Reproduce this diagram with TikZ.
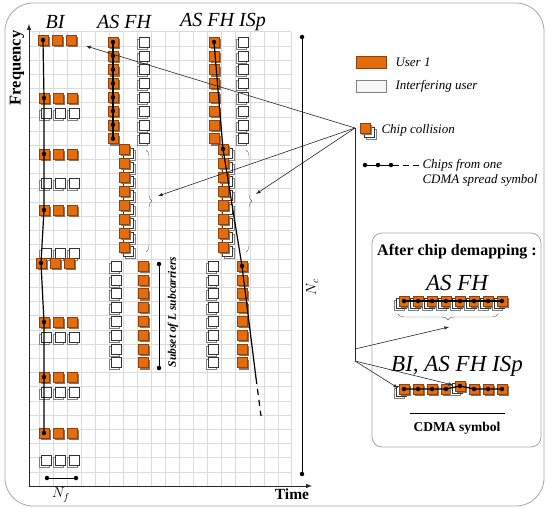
\documentclass[tikz,border=0pt]{standalone}
\usepackage{fontspec}
\setmainfont{Liberation Serif}
\usetikzlibrary{decorations.pathreplacing}

\definecolor{chiporange}{RGB}{228,108,10}
\definecolor{chipedge}{RGB}{140,65,15}
\definecolor{chipshade}{RGB}{140,115,95}

\begin{document}
\begin{tikzpicture}[x=1pt, y=-1pt,
	user/.style={draw=chipedge, fill=chiporange, minimum size=10pt, inner sep=0pt, line width=0.4pt},
	interf/.style={draw=black!80, fill=white, minimum size=10pt, inner sep=0pt, line width=0.5pt},
	dot/.style={circle, fill=black, inner sep=0pt, minimum size=4.5pt},
	chipline/.style={line width=1.2pt},
	gridline/.style={black!14, line width=0.5pt},
	arr/.style={-latex, black!85, line width=0.6pt},
	title/.style={font=\fontsize{20}{24}\selectfont\itshape},
	legtext/.style={anchor=west, font=\fontsize{13}{15}\selectfont\itshape},
	uchip/.pic={
		\fill[chipshade] (-3,-3) rectangle (7,7);
		\node[user] (-c) at (0,0) {};
	},
	ichip/.pic={
		\draw[gray, fill=white, line width=0.5pt] (-7,-3) rectangle (3,7);
		\node[interf] (-c) at (0,0) {};
	},
	cchip/.pic={
		\draw[gray, fill=white, line width=0.5pt] (1,1) rectangle (11,11);
		\draw[black!80, fill=white, line width=0.5pt] (-1,-1) rectangle (9,9);
		\fill[chipshade] (-3,-3) rectangle (7,7);
		\node[user] (-c) at (0,0) {};
	},
	cchipl/.pic={
		\draw[gray, fill=white, line width=0.5pt] (-10,-1) rectangle (0,9);
		\draw[black!80, fill=white, line width=0.5pt] (-8,-3) rectangle (2,7);
		\fill[chipshade] (-3,-3) rectangle (7,7);
		\node[user] (-c) at (0,0) {};
	}]
	\useasboundingbox (0,0) rectangle (547,509);
	\draw[gray!70, line width=0.8pt, rounded corners=28pt] (5,3) rectangle (544,506);

	% grid and axes
	\foreach \k in {1,...,32}
		\draw[gridline] (29,486-14.2*\k) -- (291,486-14.2*\k);
	\foreach \k in {0,...,17}
		\draw[gridline] (39+14.05*\k,31.6) -- (39+14.05*\k,486);
	\draw[gridline] (291,31.6) -- (291,486);
	\coordinate (origin) at (29,486);
	\coordinate (ftip) at (29,24);
	\coordinate (ttip) at (312,486);
	\draw[-latex, line width=1pt, black!85] (origin) -- (ftip);
	\draw[-latex, line width=1pt, black!85] (origin) -- (ttip);
	\node[rotate=90, font=\fontsize{16.5}{18}\selectfont\bfseries] (freq) at (17,68) {Frequency};
	\node[font=\fontsize{15.5}{18}\selectfont\bfseries] (time) at (292,494) {Time};

	\node[title] (tbi) at (55,22) {BI};
	\node[title] (tas) at (124,22) {AS FH};
	\node[title] (tisp) at (223,22) {AS FH ISp};

	% BI
	\foreach \y in {113,183,253,337,392,460}{
		\pic (biwa\y) at (46,\y) {ichip};
		\pic (biwb\y) at (60,\y) {ichip};
		\pic (biwc\y) at (74,\y) {ichip};
	}
	\foreach \n/\x/\y in {1/43/40,2/44/98,3/44/154,4/44/210,5/41/263,6/44/322,7/44/377,8/44/433}{
		\pic (bia\n) at (\x,\y) {uchip};
		\pic (bib\n) at (\x+14,\y) {uchip};
		\pic (bic\n) at (\x+28,\y) {uchip};
	}
	\draw[chipline] (bia1-c.center) -- (bia2-c.center) -- (bia3-c.center) -- (bia4-c.center)
		-- (bia5-c.center) -- (bia6-c.center) -- (bia7-c.center) -- (bia8-c.center);
	\foreach \n in {1,...,8}
		\node[dot] (bidot\n) at (bia\n-c) {};
	\node[dot] (nf1) at (47,478) {};
	\node[dot] (nf2) at (76,478) {};
	\draw[line width=0.8pt] (nf1) -- (nf2);
	\node[font=\fontsize{14}{16}\selectfont] (nf) at (61,495) {$N_f$};

	% AS FH
	\foreach \k in {0,...,7}{
		\pic (asw\k) at (144,42+13.8*\k) {ichip};
		\pic (as\k) at (113,42+13.8*\k) {uchip};
		\pic (asl\k) at (116,266+13.8*\k) {ichip};
		\pic (aso\k) at (143,266+13.8*\k) {uchip};
	}
	\foreach \k in {0,...,7}
		\pic (asc\k) at (124,149+14*\k) {cchip};
	\draw[chipline] (as0-c.center) -- (as7-c.center);
	\foreach \k in {0,...,7}
		\node[dot] (asdot\k) at (as\k-c) {};
	\coordinate (asbr1) at (146,150);
	\coordinate (asbr2) at (146,252);
	\draw[gray!80!black, decorate, decoration={brace, amplitude=6pt}] (asbr1) -- (asbr2);
	\node[dot] (sub1) at (159,264) {};
	\node[dot] (sub2) at (159,368) {};
	\draw[line width=0.8pt] (sub1) -- (sub2);
	\node[rotate=90, font=\fontsize{11.5}{14}\selectfont\bfseries\itshape] (subset) at (173,312) {Subset of L subcarriers};

	% AS FH ISp
	\foreach \k in {0,...,7}{
		\pic (ispw\k) at (243,42+13.8*\k) {ichip};
		\pic (isp\k) at (214,42+13.8*\k) {uchip};
		\pic (ispl\k) at (213,266+13.8*\k) {ichip};
		\pic (ispo\k) at (242,266+13.8*\k) {uchip};
	}
	\foreach \k in {0,...,7}
		\pic (ispc\k) at (223,149+14*\k) {cchip};
	\coordinate (ispend) at (256,378);
	\coordinate (ispdash) at (261,416);
	\draw[chipline] (isp0-c.center) -- (ispc0-c.center) -- (ispo0-c.center) -- (ispend);
	\draw[chipline, dash pattern=on 6pt off 5pt] (ispend) -- (ispdash);
	\node[dot] (ispdot1) at (isp0-c) {};
	\node[dot] (ispdot2) at (ispc0-c) {};
	\node[dot] (ispdot3) at (ispo0-c) {};
	\coordinate (ispbr1) at (246,150);
	\coordinate (ispbr2) at (246,252);
	\draw[gray!80!black, decorate, decoration={brace, amplitude=6pt}] (ispbr1) -- (ispbr2);

	\node[dot] (nc1) at (302,37) {};
	\node[dot] (nc2) at (302,474) {};
	\draw[line width=0.9pt] (nc1) -- (nc2);
	\node[rotate=90, font=\fontsize{14}{16}\selectfont] (nc) at (312,287) {$N_c$};

	% legend
	\node[user, minimum width=30pt, minimum height=12pt] (leguser) at (371,62) {};
	\node[legtext] (legusertxt) at (392,62) {User 1};
	\node[draw=gray, fill=black!3, minimum width=30pt, minimum height=12pt] (legint) at (371,86) {};
	\node[legtext] (leginttxt) at (392,86) {Interfering user};
	\pic (legcoll) at (365,128) {cchip};
	\node[legtext] (legcolltxt) at (378,130) {Chip collision};
	\node[dot] (legd1) at (365,165) {};
	\node[dot] (legd2) at (378,165) {};
	\node[dot] (legd3) at (391,165) {};
	\coordinate (legdash) at (421,165);
	\draw[line width=1pt] (legd1) -- (legd3);
	\draw[line width=1pt, dash pattern=on 6pt off 4pt] (legd3) -- (legdash);
	\node[legtext, align=left] (legchiptxt) at (419,173) {Chips from one\\CDMA spread symbol};

	% after chip demapping
	\draw[gray!70, line width=0.8pt, rounded corners=10pt] (372,233) rectangle (541,447);
	\node[font=\fontsize{16}{18}\selectfont\bfseries] (dmtitle) at (457,252) {After chip demapping :};
	\node[font=\fontsize{23}{26}\selectfont\itshape] (dmas) at (457,283) {AS FH};
	\foreach \k in {0,...,7}
		\pic (dma\k) at (404+14*\k,301) {cchipl};
	\draw[chipline] (dma0-c.center) -- (dma7-c.center);
	\foreach \k in {0,...,7}
		\node[dot] (dmadot\k) at (dma\k-c) {};
	\coordinate (dmbr1) at (498,314);
	\coordinate (dmbr2) at (398,314);
	\draw[gray!80!black, decorate, decoration={brace, amplitude=6pt}] (dmbr1) -- (dmbr2);
	\node[font=\fontsize{23}{26}\selectfont\itshape] (dmbi) at (457,366) {BI, AS FH ISp};
	\pic (dmb0) at (404,389) {cchipl};
	\pic (dmb1) at (418,389) {uchip};
	\pic (dmb2) at (432,389) {uchip};
	\pic (dmb3) at (446,389) {uchip};
	\pic (dmb4) at (460,386) {cchipl};
	\pic (dmb5) at (474,389) {uchip};
	\pic (dmb6) at (488,389) {uchip};
	\pic (dmb7) at (502,389) {uchip};
	\draw[chipline] (dmb0-c.center) -- (dmb1-c.center) -- (dmb2-c.center) -- (dmb3-c.center)
		-- (dmb4-c.center) -- (dmb5-c.center) -- (dmb6-c.center) -- (dmb7-c.center);
	\foreach \k in {0,...,7}
		\node[dot] (dmbdot\k) at (dmb\k-c) {};
	\coordinate (cd1) at (410,413);
	\coordinate (cd2) at (505,413);
	\draw[line width=0.6pt] (cd1) -- (cd2);
	\node[font=\fontsize{13.5}{16}\selectfont\bfseries] (cdma) at (457,428) {CDMA symbol};

	% collision arrows
	\coordinate (coll) at (355,128);
	\coordinate (collb) at (355,349);
	\coordinate (collc) at (355,361);
	\coordinate (bitip) at (86,46);
	\coordinate (astip) at (158,196);
	\coordinate (isptip) at (256,194);
	\coordinate (dmatip) at (449,327);
	\coordinate (dmbtip1) at (398,388);
	\coordinate (dmbtip2) at (453,385);
	\draw[arr] (coll) -- (bitip);
	\draw[arr] (coll) -- (astip);
	\draw[arr] (coll) -- (isptip);
	\draw[black!85, line width=0.6pt] (coll) -- (collc);
	\draw[arr] (collb) -- (dmatip);
	\draw[arr] (collc) -- (dmbtip1);
	\draw[arr] (collc) -- (dmbtip2);
\end{tikzpicture}
\end{document}
